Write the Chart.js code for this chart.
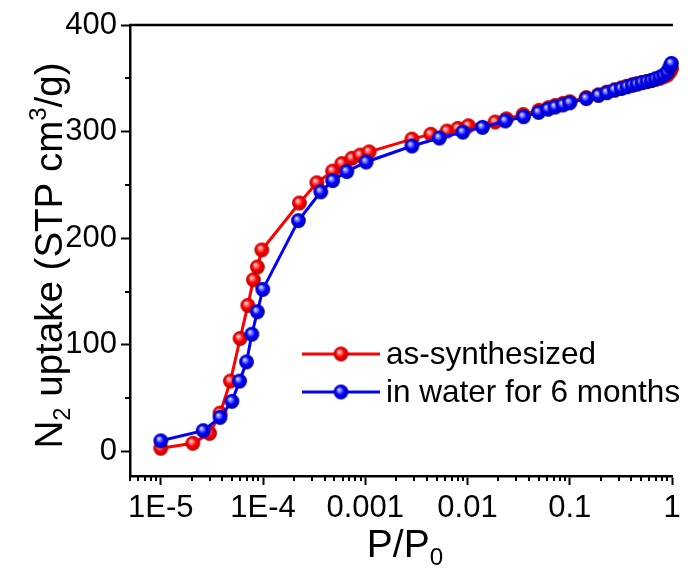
<!DOCTYPE html>
<html><head><meta charset="utf-8">
<script src="https://cdn.jsdelivr.net/npm/chart.js@4.4.0/dist/chart.umd.min.js"></script>
<style>html,body{margin:0;padding:0;background:#fff;}</style>
</head><body>
<canvas id="c" width="688" height="572" style="width:688px;height:572px;display:block"></canvas>
<script>
// ---------- data ----------
const seriesNames = ['as-synthesized', 'in water for 6 months'];
const redP = [1.0e-5, 2.06e-5, 3.0e-5, 3.8e-5, 4.8e-5, 5.97e-5, 7.1e-5, 8.05e-5, 8.8e-5, 9.73e-5,
  2.27e-4, 3.36e-4, 4.8e-4, 5.9e-4, 7.4e-4, 8.9e-4, 1.09e-3, 2.86e-3, 4.38e-3, 6.3e-3, 8.06e-3, 1.02e-2,
  1.86e-2, 2.4e-2, 3.5e-2, 5.0e-2, 6.2e-2, 7.2e-2, 8.6e-2, 0.1, 0.145, 0.19, 0.23, 0.275, 0.32, 0.36,
  0.41, 0.455, 0.51, 0.57, 0.63, 0.69, 0.76, 0.83, 0.9, 0.955, 0.99];
const redUptake = [3, 7.7, 17, 36, 66, 106, 137, 161, 173, 189,
  233, 252, 263, 270, 275, 278, 281, 293, 297.5, 300.5, 303, 305.5,
  309, 312, 316, 320, 322.5, 324.5, 326.5, 328, 332, 334.5, 337, 339, 341, 342.5,
  344, 345, 346, 347, 348, 349, 350, 351.5, 353, 356, 359];
const blueP = [1.0e-5, 2.6e-5, 3.8e-5, 4.96e-5, 5.9e-5, 6.9e-5, 7.77e-5, 8.8e-5, 9.95e-5,
  2.22e-4, 3.67e-4, 4.8e-4, 6.6e-4, 1.02e-3, 2.86e-3, 5.3e-3, 9.0e-3, 1.4e-2, 2.34e-2, 3.53e-2,
  4.96e-2, 6.12e-2, 7.2e-2, 8.58e-2, 0.1, 0.145, 0.191, 0.231, 0.275, 0.32, 0.363, 0.41, 0.455,
  0.51, 0.57, 0.63, 0.69, 0.76, 0.83, 0.9, 0.955, 0.987];
const blueUptake = [10, 19.5, 32, 47, 66, 84, 110, 131, 152,
  216.5, 243.5, 254, 262.5, 271.5, 286.5, 294, 299.5, 304, 310, 314,
  318, 321, 323, 325, 327, 331, 334, 336.5, 339, 340.5, 342, 343.5, 344.5,
  346, 347, 348, 349.5, 351, 353, 356, 361, 364];
const xTickValues = [1e-5, 1e-4, 1e-3, 1e-2, 0.1, 1];
const xTickLabels = ['1E-5', '1E-4', '0.001', '0.01', '0.1', '1'];
const yTickValues = [0, 100, 200, 300, 400];
const yTickLabels = ['0', '100', '200', '300', '400'];
const yMinorValues = [50, 150, 250, 350];
const X_MIN = 5e-6, X_MAX = 1, Y_MIN = -23, Y_MAX = 400;

const xMinorValues = [];
for (let e = -6; e <= -1; e++) for (let k = 2; k <= 9; k++) {
  const v = k * Math.pow(10, e);
  if (v >= X_MIN * 0.999 && v <= X_MAX) xMinorValues.push(v);
}

const FONT = "'Liberation Sans', Arial, Helvetica, sans-serif";

function sphere(base, light, dark, r) {
  const s = Math.ceil(r * 2 + 2);
  const cv = document.createElement('canvas');
  cv.width = s; cv.height = s;
  const c = cv.getContext('2d');
  const cx = s / 2, cy = s / 2;
  const g = c.createRadialGradient(cx - r * 0.3, cy - r * 0.35, 0, cx, cy, r);
  g.addColorStop(0, '#ffffff');
  g.addColorStop(0.2, light);
  g.addColorStop(0.55, base);
  g.addColorStop(1, dark);
  c.fillStyle = g;
  c.beginPath(); c.arc(cx, cy, r, 0, Math.PI * 2); c.fill();
  return cv;
}
const redBall = sphere('#ff0000', '#ff9a9a', '#b80000', 7.4);
const blueBall = sphere('#0000ff', '#9a9aff', '#0000a8', 7.4);

function pts(xs, ys) { return xs.map((v, i) => ({ x: v, y: ys[i] })); }

function drawRich(ctx, parts, size, x0, y0) {
  const small = size * 0.62;
  let total = 0;
  parts.forEach(p => { ctx.font = (p.s ? small : size) + 'px ' + FONT; p.w = ctx.measureText(p.t).width; total += p.w; });
  let x = x0 - total / 2;
  ctx.textAlign = 'left'; ctx.textBaseline = 'alphabetic';
  parts.forEach(p => {
    ctx.font = (p.s ? small : size) + 'px ' + FONT;
    let dy = 0;
    if (p.s === 'sub') dy = size * 0.2;
    if (p.s === 'sup') dy = -size * 0.42;
    ctx.fillText(p.t, x, y0 + dy);
    x += p.w;
  });
}

const decor = {
  id: 'decor',
  afterDraw(chart) {
    const { ctx, chartArea: a, scales: { x, y } } = chart;
    ctx.save();
    ctx.strokeStyle = '#000'; ctx.fillStyle = '#000';
    ctx.lineWidth = 2;
    xMinorValues.forEach(v => {
      const px = Math.round(x.getPixelForValue(v));
      ctx.beginPath(); ctx.moveTo(px, a.bottom); ctx.lineTo(px, a.bottom + 5); ctx.stroke();
    });
    yMinorValues.forEach(v => {
      const py = Math.round(y.getPixelForValue(v));
      ctx.beginPath(); ctx.moveTo(a.left, py); ctx.lineTo(a.left - 5, py); ctx.stroke();
    });
    // top frame line
    ctx.lineWidth = 2.5;
    ctx.beginPath(); ctx.moveTo(a.left - 1, a.top); ctx.lineTo(a.right + 1, a.top); ctx.stroke();

    // axis titles
    drawRich(ctx, [{ t: 'P/P' }, { t: '0', s: 'sub' }], 39, (a.left + a.right) / 2 + 4, 557);
    ctx.save();
    ctx.translate(62, (a.top + a.bottom) / 2 + 5);
    ctx.rotate(-Math.PI / 2);
    drawRich(ctx, [{ t: 'N' }, { t: '2', s: 'sub' }, { t: ' uptake (STP cm' }, { t: '3', s: 'sup' }, { t: '/g)' }], 38.5, 0, 0);
    ctx.restore();

    // legend
    const items = [
      { name: seriesNames[0], color: '#ff0000', ball: redBall, y: 354 },
      { name: seriesNames[1], color: '#0000ff', ball: blueBall, y: 392 }
    ];
    items.forEach(it => {
      ctx.strokeStyle = it.color; ctx.lineWidth = 3;
      ctx.beginPath(); ctx.moveTo(302, it.y); ctx.lineTo(380, it.y); ctx.stroke();
      ctx.drawImage(it.ball, 341 - it.ball.width / 2, it.y - it.ball.height / 2);
      ctx.fillStyle = '#000';
      ctx.font = '31.5px ' + FONT; ctx.textAlign = 'left'; ctx.textBaseline = 'middle';
      ctx.fillText(it.name, 386, it.y + 1);
    });
    ctx.restore();
  }
};

new Chart(document.getElementById('c'), {
  type: 'line',
  data: {
    datasets: [
      { label: seriesNames[1], data: pts(blueP, blueUptake), borderColor: '#0000ff', borderWidth: 3,
        pointStyle: blueBall, pointRadius: 7, tension: 0, clip: false, order: 1 },
      { label: seriesNames[0], data: pts(redP, redUptake), borderColor: '#ff0000', borderWidth: 3,
        pointStyle: redBall, pointRadius: 7, tension: 0, clip: false, order: 2 }
    ]
  },
  options: {
    responsive: false, animation: false, devicePixelRatio: 1,
    layout: { padding: { left: 0, right: 16, top: 25, bottom: 0 } },
    plugins: { legend: { display: false }, tooltip: { enabled: false } },
    scales: {
      x: {
        type: 'logarithmic', min: X_MIN, max: X_MAX,
        afterBuildTicks: s => { s.ticks = xTickValues.map(v => ({ value: v })); },
        afterFit: s => { s.height = 96; },
        ticks: { autoSkip: false, maxRotation: 0, padding: 5, color: '#000',
          font: { family: FONT, size: 31 }, callback: (v, i) => xTickLabels[i] },
        grid: { drawOnChartArea: false, drawTicks: true, tickLength: 9, tickColor: '#000', tickWidth: 2 },
        border: { display: true, color: '#000', width: 2.5 }
      },
      y: {
        type: 'linear', min: Y_MIN, max: Y_MAX,
        afterBuildTicks: s => { s.ticks = yTickValues.map(v => ({ value: v })); },
        afterFit: s => { s.width = 130; },
        ticks: { autoSkip: false, padding: 4, color: '#000',
          font: { family: FONT, size: 31 }, callback: (v, i) => yTickLabels[i] },
        grid: { drawOnChartArea: false, drawTicks: true, tickLength: 9, tickColor: '#000', tickWidth: 2 },
        border: { display: true, color: '#000', width: 2.5 }
      }
    }
  },
  plugins: [decor]
});
</script>
</body></html>
